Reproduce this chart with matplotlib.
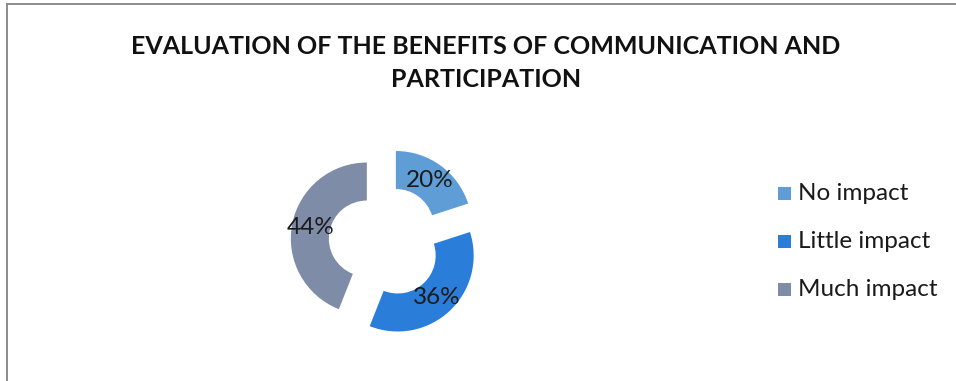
import matplotlib
matplotlib.use("Agg")
import matplotlib.pyplot as plt
from matplotlib.patches import Rectangle
from matplotlib.lines import Line2D

# Survey results
categories = ["No impact", "Little impact", "Much impact"]
shares = [20, 36, 44]
colors = ["#5E9DD6", "#2A7DD8", "#7F8CA8"]
title = "EVALUATION OF THE BENEFITS OF COMMUNICATION AND\nPARTICIPATION"

W, H = 956, 381
fig = plt.figure(figsize=(W / 100, H / 100), dpi=100)
ax = fig.add_axes([0, 0, 1, 1])

# frame lines along the top and left edges
fig.add_artist(Line2D([6.5 / W, 1], [1 - 4 / H, 1 - 4 / H], transform=fig.transFigure,
                      color="#8c8c8c", lw=1.4))
fig.add_artist(Line2D([6.5 / W, 6.5 / W], [0, 1 - 4 / H], transform=fig.transFigure,
                      color="#8c8c8c", lw=1.4))

radius = 76
wedges, texts, autotexts = ax.pie(
    shares,
    colors=colors,
    startangle=90,
    counterclock=False,
    radius=radius,
    center=(385, H - 242),
    explode=[18.5] * len(shares),
    wedgeprops=dict(width=radius * 0.5, linewidth=0),
    autopct=lambda p: f"{p:.0f}%",
    pctdistance=0.75,
    textprops=dict(fontsize=17.5, color="#1a1a1a", family=["Lato", "DejaVu Sans"]),
    frame=True,
)
ax.axis("off")
ax.set_xlim(0, W)
ax.set_ylim(0, H)
ax.set_aspect("equal")

fig.text(486 / W, 1 - 63 / H, title, ha="center", va="center", fontsize=18,
         fontweight="bold", family=["Lato", "DejaVu Sans"], color="#111111",
         linespacing=1.5)

# legend
leg_y = [193, 241, 289]
for name, col, y in zip(categories, colors, leg_y):
    ax.add_patch(Rectangle((778, H - y - 6.5), 13, 13, facecolor=col, edgecolor="none"))
    ax.text(798, H - y, name, ha="left", va="center", fontsize=17.5,
            family=["Lato", "DejaVu Sans"], color="#1a1a1a")

fig.savefig("out.png", dpi=100)
